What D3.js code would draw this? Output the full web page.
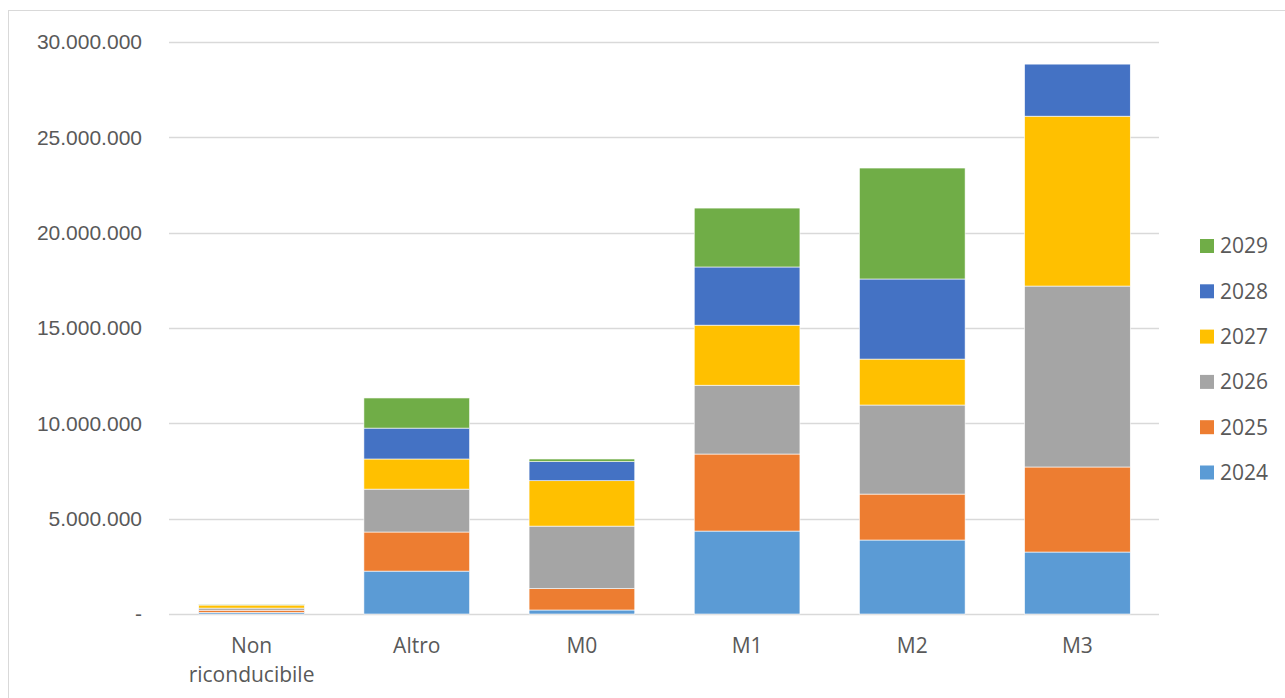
<!DOCTYPE html>
<html>
<head>
<meta charset="utf-8">
<script src="https://cdn.jsdelivr.net/npm/d3@7"></script>
<style>
  body { margin: 0; background: #fff; }
  svg { font-family: "Open Sans", "Liberation Sans", sans-serif; }
</style>
</head>
<body>
<svg id="chart"></svg>
<script>
// categorie e serie
const categories = ["Non riconducibile", "Altro", "M0", "M1", "M2", "M3"];
const years = ["2024", "2025", "2026", "2027", "2028", "2029"];
const colors = ["#5b9bd5", "#ed7d31", "#a5a5a5", "#ffc000", "#4472c4", "#70ad47"];

const v2024 = [80000, 2250000, 210000, 4350000, 3880000, 3250000];
const v2025 = [120000, 2050000, 1120000, 4040000, 2410000, 4460000];
const v2026 = [110000, 2250000, 3280000, 3610000, 4670000, 9490000];
const v2027 = [160000, 1580000, 2380000, 3150000, 2410000, 8910000];
const v2028 = [20000, 1620000, 1000000, 3050000, 4200000, 2730000];
const v2029 = [20000, 1580000, 140000, 3090000, 5820000, 0];

const yTicks = [0, 5000000, 10000000, 15000000, 20000000, 25000000, 30000000];

const width = 1285, height = 698;
const margin = { top: 42, right: 125, bottom: 84, left: 169 };

const series = [v2024, v2025, v2026, v2027, v2028, v2029];
const rows = categories.map((c, i) => {
    const r = { cat: c };
    years.forEach((y, j) => r[y] = series[j][i]);
    return r;
});

const svg = d3.select("#chart")
    .attr("width", width)
    .attr("height", height);

// cornice del grafico
svg.append("rect")
    .attr("x", 8.5).attr("y", 10.5)
    .attr("width", width).attr("height", height)
    .attr("fill", "none")
    .attr("stroke", "#d9d9d9");

const x = d3.scaleBand()
    .domain(categories)
    .range([margin.left, width - margin.right])
    .paddingInner(0.36)
    .paddingOuter(0.18);

const y = d3.scaleLinear()
    .domain([0, 30000000])
    .range([height - margin.bottom, margin.top]);

const it = d3.formatLocale({ decimal: ",", thousands: ".", grouping: [3], currency: ["€", ""] });
const fmt = d => d === 0 ? "-" : it.format(",")(d);

// griglia
svg.append("g")
    .selectAll("line")
    .data(yTicks)
    .enter().append("line")
    .attr("x1", margin.left)
    .attr("x2", width - margin.right - 1)
    .attr("y1", d => Math.round(y(d)) + 0.5)
    .attr("y2", d => Math.round(y(d)) + 0.5)
    .attr("stroke", "#d9d9d9")
    .attr("stroke-width", 1.3);

// asse y
const yAxis = svg.append("g")
    .attr("transform", `translate(${margin.left},0)`)
    .call(d3.axisLeft(y).tickValues(yTicks).tickFormat(fmt).tickSize(0).tickPadding(27));
yAxis.select(".domain").remove();
yAxis.selectAll("text")
    .attr("fill", "#595959")
    .style("font-size", "21px");

// barre impilate
const stacked = d3.stack().keys(years)(rows);

svg.append("g")
    .selectAll("g")
    .data(stacked)
    .enter().append("g")
    .attr("fill", (d, i) => colors[i])
    .selectAll("rect")
    .data(d => d)
    .enter().append("rect")
    .attr("x", d => x(d.data.cat))
    .attr("y", d => y(d[1]))
    .attr("width", x.bandwidth())
    .attr("height", d => Math.max(0, y(d[0]) - y(d[1])))
    .attr("stroke", "#fff")
    .attr("stroke-width", 0.6);

// etichette asse x
const xLab = svg.append("g");
categories.forEach(c => {
    const words = c === "Non riconducibile" ? ["Non", "riconducibile"] : [c];
    words.forEach((w, k) => {
        xLab.append("text")
            .attr("x", x(c) + x.bandwidth() / 2)
            .attr("y", 653 + k * 29)
            .attr("text-anchor", "middle")
            .attr("fill", "#595959")
            .style("font-size", "21px")
            .text(w);
    });
});

// legenda
const legend = svg.append("g");
years.slice().reverse().forEach((yr, k) => {
    const cy = 246 + k * 45.3;
    legend.append("rect")
        .attr("x", 1200).attr("y", cy - 7)
        .attr("width", 14).attr("height", 14)
        .attr("fill", colors[years.indexOf(yr)]);
    legend.append("text")
        .attr("x", 1220).attr("y", cy)
        .attr("dy", "0.35em")
        .attr("fill", "#595959")
        .style("font-size", "21px")
        .text(yr);
});
</script>
</body>
</html>
